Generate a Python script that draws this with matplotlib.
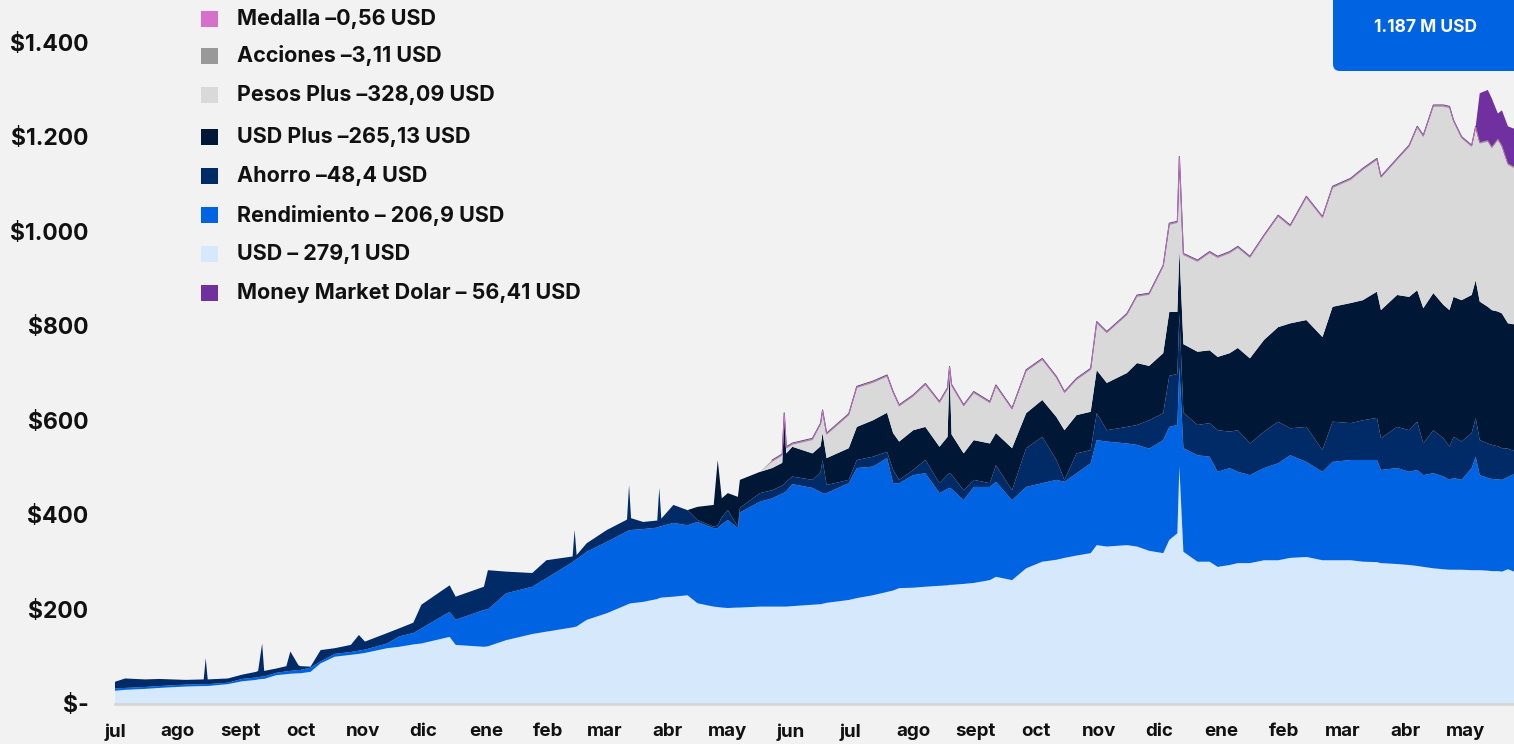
import matplotlib
matplotlib.use("Agg")
import matplotlib.pyplot as plt
from matplotlib.patches import Rectangle, FancyBboxPatch
from matplotlib.transforms import IdentityTransform
import pandas as pd
import numpy as np

plt.rcParams['font.family'] = ['Inter', 'DejaVu Sans']

dates = [
"2022-07-01","2022-07-06","2022-07-16","2022-07-23","2022-08-05","2022-08-14","2022-08-15","2022-08-16","2022-08-26","2022-09-02",
"2022-09-09","2022-09-10","2022-09-12","2022-09-13","2022-09-19","2022-09-24","2022-09-26","2022-09-30","2022-10-01","2022-10-06",
"2022-10-11","2022-10-18","2022-10-26","2022-10-30","2022-11-02","2022-11-13","2022-11-19","2022-11-26","2022-11-30","2022-12-14",
"2022-12-17","2022-12-31","2023-01-02","2023-01-11","2023-01-24","2023-01-31","2023-02-13","2023-02-14","2023-02-15","2023-02-20",
"2023-03-02","2023-03-12","2023-03-13","2023-03-14","2023-03-20","2023-03-27","2023-03-28","2023-03-29","2023-04-04","2023-04-11",
"2023-04-16","2023-04-24","2023-04-26","2023-04-28","2023-05-01","2023-05-06","2023-05-07","2023-05-17","2023-05-23","2023-05-28",
"2023-05-29","2023-05-30","2023-06-02","2023-06-12","2023-06-16","2023-06-17","2023-06-19","2023-06-30","2023-07-04","2023-07-12",
"2023-07-19","2023-07-22","2023-07-25","2023-08-01","2023-08-07","2023-08-14","2023-08-18","2023-08-19","2023-08-20","2023-08-26",
"2023-08-31","2023-09-08","2023-09-11","2023-09-19","2023-09-26","2023-10-04","2023-10-11","2023-10-15","2023-10-21","2023-10-28",
"2023-10-31","2023-11-05","2023-11-15","2023-11-20","2023-11-26","2023-12-03","2023-12-06","2023-12-10","2023-12-11","2023-12-13",
"2023-12-20","2023-12-26","2023-12-30","2024-01-05","2024-01-09","2024-01-15","2024-01-22","2024-01-29","2024-02-04","2024-02-12",
"2024-02-20","2024-02-25","2024-03-05","2024-03-11","2024-03-18","2024-03-20","2024-03-28","2024-04-03","2024-04-07","2024-04-10",
"2024-04-15","2024-04-20","2024-04-23","2024-04-25","2024-04-29","2024-05-04","2024-05-06","2024-05-08","2024-05-12","2024-05-14",
"2024-05-17","2024-05-19","2024-05-22","2024-05-25"]

usd = [28,30,32,34,37,38,38,38,42,48,
       51,52,53,53,61,63,64,65,65,68,
       86,100,104,106,108,118,121,126,128,142,
       125,121,122,135,148,153,162,163,164,178,
       192,210,212,213,216,222,224,225,227,230,
       213,206,205,204,203,204,204,206,206,206,
       206,206,207,210,211,212,214,220,224,230,
       237,240,245,246,248,250,251,252,252,254,
       256,262,269,262,287,301,305,309,314,319,
       336,333,336,333,324,319,347,361,502,322,
       301,301,290,294,298,298,304,304,309,311,
       304,304,304,301,300,298,296,294,292,290,
       287,285,284,284,284,283,283,283,282,281,
       281,280,285,280]

rendimiento = [5,4,4,4,4,4,4,4,3,5,
               5,5,5,5,5,6,6,7,7,9,
               4,6,6,7,7,10,22,24,32,53,
               53,78,78,99,100,113,138,141,142,144,
               151,155,155,155,154,151,151,151,156,148,
               172,166,167,176,186,168,201,222,229,239,
               241,244,258,247,237,234,232,247,275,272,
               283,227,222,238,240,196,204,205,203,177,
               203,197,201,169,172,166,169,161,174,190,
               222,222,215,215,216,239,239,229,211,219,
               225,222,201,205,193,186,195,205,217,201,
               187,208,212,215,216,197,203,197,203,194,
               201,196,190,194,190,216,240,201,196,195,
               194,194,195,206]

ahorro = [14,20,16,15,10,10,55,10,9,9,
          12,13,70,12,9,11,41,10,8,2,
          24,12,15,33,17,22,17,22,50,56,
          49,49,83,46,29,38,12,64,9,18,
          25,25,96,25,15,15,82,16,38,32,
          4,3,6,15,21,3,10,18,17,17,
          18,20,16,17,42,70,17,7,17,21,
          13,28,7,11,28,21,30,31,30,21,
          15,8,35,21,82,98,42,4,42,28,
          57,24,35,42,60,57,108,108,113,75,
          64,71,88,77,88,67,77,88,57,74,
          46,85,78,84,89,67,87,88,102,67,
          91,81,70,87,81,74,82,74,73,72,
          70,67,60,49]

usd_plus = [0]*50 + [
            28,46,138,40,36,63,59,45,47,48,
            142,60,63,56,55,57,57,67,70,77,
            83,78,81,84,70,77,80,217,85,78,
            84,84,68,89,74,78,91,105,81,81,
            91,100,114,131,115,127,135,131,134,145,
            155,154,155,166,174,180,194,200,222,226,
            239,243,254,254,267,271,279,282,278,286,
            290,282,289,296,299,292,291,293,289,285,
            285,285,265,268]

pesos_plus = [0]*58 + [
              13,15,
              5,10,4,28,45,45,49,69,82,79,
              76,84,74,71,88,92,100,5,102,99,
              99,85,98,81,88,84,82,78,74,88,
              99,105,122,140,150,182,184,188,194,188,
              190,205,209,211,211,212,218,233,204,258,
              251,251,260,275,278,279,285,317,343,362,
              394,419,427,370,342,313,322,334,349,342,
              362,352,335,330]

acciones = [0]*58 + [3.1]*76
medalla = [0]*58 + [0.56]*76
money_market = [0]*127 + [103,106,102,53,74,78,80]

series_names = ["USD", "Rendimiento", "Ahorro", "USD Plus", "Pesos Plus",
                "Acciones", "Medalla", "Money Market Dolar"]
series_colors = ["#d5e8fc", "#0063e1", "#002b66", "#001836", "#d9d9d9",
                 "#999999", "#d670c8", "#7030a0"]

legend_labels = ["Medalla \u20130,56 USD", "Acciones \u20133,11 USD", "Pesos Plus \u2013328,09 USD",
                 "USD Plus \u2013265,13 USD", "Ahorro \u201348,4 USD", "Rendimiento \u2013 206,9 USD",
                 "USD \u2013 279,1 USD", "Money Market Dolar \u2013 56,41 USD"]
legend_colors = ["#d670c8", "#999999", "#d9d9d9", "#001836", "#002b66", "#0063e1",
                 "#d5e8fc", "#7030a0"]

month_ticks = ["2022-07-01","2022-08-01","2022-09-01","2022-10-01","2022-11-01","2022-12-01",
               "2023-01-01","2023-02-01","2023-03-01","2023-04-01","2023-05-01","2023-06-01",
               "2023-07-01","2023-08-01","2023-09-01","2023-10-01","2023-11-01","2023-12-01",
               "2024-01-01","2024-02-01","2024-03-01","2024-04-01","2024-05-01"]
month_labels = ["jul","ago","sept","oct","nov","dic","ene","feb","mar","abr","may","jun",
                "jul","ago","sept","oct","nov","dic","ene","feb","mar","abr","may"]

y_ticks = [0, 200, 400, 600, 800, 1000, 1200, 1400]
y_labels = ["$-", "$200", "$400", "$600", "$800", "$1.000", "$1.200", "$1.400"]

total_label = "1.187 M USD"

# ---------------------------------------------------------------
W, H = 1514, 744
BG = "#f2f2f2"
fig = plt.figure(figsize=(W / 100, H / 100), dpi=100)
fig.patch.set_facecolor(BG)

ax = fig.add_axes([115 / W, 40 / H, 1 - 115 / W, 704 / H])
ax.set_facecolor(BG)

x = pd.to_datetime(dates)
polys = ax.stackplot(x, usd, rendimiento, ahorro, usd_plus, pesos_plus, acciones, medalla,
                     money_market, colors=series_colors, labels=series_names,
                     linewidth=0)

# thin outline along the top of the Pesos Plus / Acciones / Medalla block
stack = np.vstack([usd, rendimiento, ahorro, usd_plus, pesos_plus, acciones, medalla])
top = stack.sum(axis=0)
mask = np.array(pesos_plus) > 0
top_line = np.where(mask, top, np.nan)
ax.plot(x, top_line, color="#3a4a6a", linewidth=0.8, zorder=3)
ax.plot(x, np.where(mask, top - 1.2, np.nan), color="#d670c8", linewidth=0.6, zorder=3)

ax.set_xlim(x[0], x[-1])
ax.set_ylim(0, 704 / (662 / 1400))

ax.set_yticks(y_ticks)
ax.set_yticklabels(y_labels)
ax.set_xticks(pd.to_datetime(month_ticks))
ax.set_xticklabels(month_labels)
ax.tick_params(axis="y", length=0, pad=19, labelsize=16.5, labelcolor="#111111")
ax.tick_params(axis="x", length=0, pad=14, labelsize=13.5, labelcolor="#111111")
for lab in ax.get_xticklabels() + ax.get_yticklabels():
    lab.set_fontweight("bold")

for s in ["top", "right", "left"]:
    ax.spines[s].set_visible(False)
ax.spines["bottom"].set_color("#d6d6d6")
ax.spines["bottom"].set_linewidth(2)

# legend (manual, figure pixel coordinates)
rows_y = [19, 56, 95, 137, 176, 215, 254, 293]
for lab, col, yy in zip(legend_labels, legend_colors, rows_y):
    fig.patches.append(Rectangle((201, H - yy - 8), 17, 16, facecolor=col,
                                 edgecolor="none", transform=IdentityTransform(),
                                 figure=fig))
    fig.text(237 / W, 1 - yy / H, lab, ha="left", va="center", fontsize=15.5,
             fontweight="bold", color="#111111")

# total box
box = FancyBboxPatch((1333, H - 71), 260, 120, boxstyle="round,pad=0,rounding_size=7",
                     facecolor="#0063e1", edgecolor="none",
                     transform=IdentityTransform(), figure=fig)
fig.patches.append(box)
fig.text(1426 / W, 1 - 28 / H, total_label, ha="center", va="center",
         fontsize=12.5, fontweight="bold", color="white")

fig.savefig("out.png", dpi=100, facecolor=BG)
